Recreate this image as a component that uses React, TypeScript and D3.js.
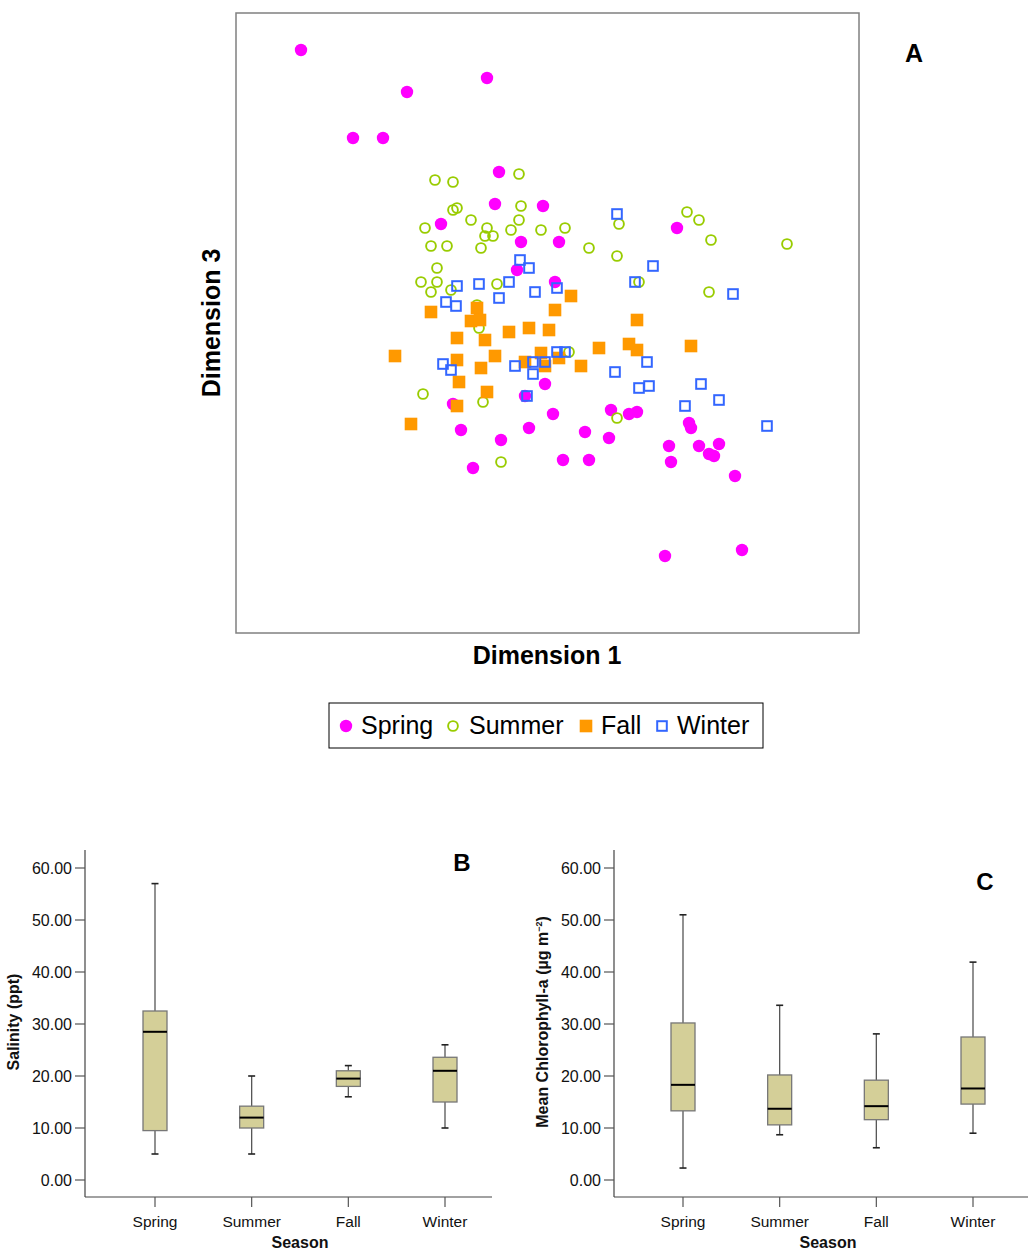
import React from 'react';
import * as d3 from 'd3';

// ---- Panel A: MDS ordination (Dimension 1 vs Dimension 3) ----
const springPts: [number, number][] = [
  [-2.46, 2.73], [-0.60, 2.45], [-1.40, 2.31], [-1.94, 1.85], [-1.64, 1.85], [-0.48, 1.51],
  [-0.52, 1.19], [-0.04, 1.17], [-1.06, 0.99], [1.30, 0.95], [-0.26, 0.81], [0.12, 0.81],
  [-0.30, 0.53], [0.08, 0.41], [-0.02, -0.61], [-0.22, -0.73], [-0.94, -0.81], [0.06, -0.91],
  [-0.86, -1.07], [-0.18, -1.05], [0.38, -1.09], [-0.46, -1.17], [0.64, -0.87], [0.82, -0.91],
  [0.90, -0.89], [0.62, -1.15], [0.16, -1.37], [0.42, -1.37], [-0.74, -1.45], [1.42, -1.00],
  [1.44, -1.05], [1.22, -1.23], [1.24, -1.39], [1.52, -1.23], [1.72, -1.21], [1.62, -1.31],
  [1.67, -1.33], [1.88, -1.53], [1.18, -2.33], [1.95, -2.27],
];
const summerPts: [number, number][] = [
  [-1.12, 1.43], [-0.94, 1.41], [-0.28, 1.49], [-0.94, 1.13], [-0.90, 1.15], [-0.26, 1.17],
  [-1.22, 0.95], [-0.76, 1.03], [-0.60, 0.95], [-0.62, 0.87], [-0.54, 0.87], [-0.36, 0.93],
  [-0.28, 1.03], [-0.06, 0.93], [0.18, 0.95], [-1.16, 0.77], [-1.00, 0.77], [-0.66, 0.75],
  [0.42, 0.75], [0.70, 0.67], [0.72, 0.99], [-1.10, 0.55], [-1.26, 0.41], [-1.10, 0.41],
  [-1.16, 0.31], [-0.96, 0.33], [-0.50, 0.39], [-0.70, 0.18], [-0.68, -0.05], [-1.24, -0.71],
  [-0.64, -0.79], [0.22, -0.29], [0.70, -0.95], [-0.46, -1.39], [1.40, 1.11], [1.52, 1.03],
  [1.64, 0.83], [2.40, 0.79], [1.62, 0.31], [0.92, 0.41],
];
const fallPts: [number, number][] = [
  [-1.16, 0.11], [-0.70, 0.15], [-0.76, 0.02], [-0.67, 0.03], [0.08, 0.13], [-0.38, -0.09],
  [-0.18, -0.05], [0.02, -0.07], [-0.90, -0.15], [-0.62, -0.17], [-1.52, -0.33], [-0.52, -0.33],
  [-0.90, -0.37], [-0.66, -0.45], [-0.22, -0.39], [-0.06, -0.30], [0.12, -0.35], [-0.02, -0.43],
  [0.34, -0.43], [0.52, -0.25], [0.82, -0.21], [0.90, -0.27], [0.24, 0.27], [0.90, 0.03],
  [1.44, -0.23], [-0.88, -0.59], [-0.60, -0.69], [-0.90, -0.83], [-1.36, -1.01],
];
const winterPts: [number, number][] = [
  [0.70, 1.09], [-0.27, 0.63], [-0.18, 0.55], [-0.90, 0.37], [-0.68, 0.39], [-0.38, 0.41],
  [-0.12, 0.31], [0.10, 0.35], [-1.01, 0.21], [-0.91, 0.17], [-0.48, 0.25], [0.88, 0.41],
  [1.06, 0.57], [1.86, 0.29], [-1.04, -0.41], [-0.96, -0.47], [-0.32, -0.43], [-0.14, -0.39],
  [-0.14, -0.51], [-0.02, -0.39], [0.10, -0.29], [0.18, -0.29], [0.68, -0.49], [-0.20, -0.73],
  [1.00, -0.39], [1.02, -0.63], [0.92, -0.65], [1.54, -0.61], [1.72, -0.77], [1.38, -0.83],
  [2.20, -1.03],
];

// ---- Panels B & C: box plots by season ----
const seasons = ['Spring', 'Summer', 'Fall', 'Winter'];
const yTicks = [0, 10, 20, 30, 40, 50, 60];

const salinityMin = [5, 5, 16, 10];
const salinityQ1 = [9.5, 10, 18, 15];
const salinityMedian = [28.5, 12, 19.5, 21];
const salinityQ3 = [32.5, 14.2, 21, 23.6];
const salinityMax = [57, 20, 22, 26];

const chlMin = [2.3, 8.7, 6.2, 9];
const chlQ1 = [13.3, 10.6, 11.6, 14.6];
const chlMedian = [18.3, 13.7, 14.2, 17.6];
const chlQ3 = [30.2, 20.2, 19.2, 27.5];
const chlMax = [51, 33.6, 28.1, 41.9];

const FONT = '"Liberation Sans", Arial, Helvetica, sans-serif';
const C_SPRING = '#ff00ff';
const C_SUMMER = '#99cc00';
const C_FALL = '#ff9900';
const C_WINTER = '#3366ff';
const BOX_FILL = '#d4cf98';

function Circle({ x, y, filled, color }: any) {
  return filled ? (
    <circle cx={x} cy={y} r={6.2} fill={color} />
  ) : (
    <circle cx={x} cy={y} r={4.9} fill="none" stroke={color} strokeWidth={1.9} />
  );
}
function Square({ x, y, filled, color }: any) {
  return filled ? (
    <rect x={x - 6.3} y={y - 6.3} width={12.6} height={12.6} fill={color} />
  ) : (
    <rect x={x - 4.8} y={y - 4.8} width={9.6} height={9.6} fill="none" stroke={color} strokeWidth={2} />
  );
}

function Scatter() {
  const x = d3.scaleLinear().domain([-3.11, 3.12]).range([236, 859]);
  const y = d3.scaleLinear().domain([-3.1, 3.1]).range([633, 13]);
  return (
    <g>
      <rect x={236} y={13} width={623} height={620} fill="none" stroke="#808080" strokeWidth={1.5} />
      {springPts.map((p, i) => <Circle key={'sp' + i} x={x(p[0])} y={y(p[1])} filled color={C_SPRING} />)}
      {summerPts.map((p, i) => <Circle key={'su' + i} x={x(p[0])} y={y(p[1])} color={C_SUMMER} />)}
      {fallPts.map((p, i) => <Square key={'fa' + i} x={x(p[0])} y={y(p[1])} filled color={C_FALL} />)}
      {winterPts.map((p, i) => <Square key={'wi' + i} x={x(p[0])} y={y(p[1])} color={C_WINTER} />)}
      <text x={914} y={62} textAnchor="middle" fontFamily={FONT} fontWeight="bold" fontSize={25}>A</text>
      <text x={547} y={664} textAnchor="middle" fontFamily={FONT} fontWeight="bold" fontSize={25}>Dimension 1</text>
      <text transform="translate(220,323) rotate(-90)" textAnchor="middle" fontFamily={FONT} fontWeight="bold" fontSize={25}>Dimension 3</text>
      {/* legend */}
      <rect x={329} y={703} width={434} height={45} fill="white" stroke="#000" strokeWidth={1} />
      <Circle x={346} y={726} filled color={C_SPRING} />
      <text x={361} y={734} fontFamily={FONT} fontSize={25}>Spring</text>
      <Circle x={453} y={726} color={C_SUMMER} />
      <text x={469} y={734} fontFamily={FONT} fontSize={25}>Summer</text>
      <Square x={586} y={726} filled color={C_FALL} />
      <text x={601} y={734} fontFamily={FONT} fontSize={25}>Fall</text>
      <Square x={662} y={726} color={C_WINTER} />
      <text x={677} y={734} fontFamily={FONT} fontSize={25}>Winter</text>
    </g>
  );
}

function BoxPanel({ axisX, xRange, axisRight, mins, q1s, meds, q3s, maxs, yLabel, letter, letterX, letterY }: any) {
  const y = d3.scaleLinear().domain([0, 60]).range([1180, 868]);
  const x = d3.scalePoint<string>().domain(seasons).range(xRange);
  const bw = 24;
  const cap = 7;
  const axisBottom = 1197;
  return (
    <g fontFamily={FONT}>
      <line x1={axisX} x2={axisX} y1={850} y2={axisBottom} stroke="#444" strokeWidth={1.2} />
      <line x1={axisX} x2={axisRight} y1={axisBottom} y2={axisBottom} stroke="#444" strokeWidth={1.2} />
      {yTicks.map((t) => (
        <g key={t}>
          <line x1={axisX - 10} x2={axisX} y1={y(t)} y2={y(t)} stroke="#555" strokeWidth={1.2} />
          <text x={axisX - 13} y={y(t) + 5.5} textAnchor="end" fontSize={16} fill="#111">{t.toFixed(2)}</text>
        </g>
      ))}
      {seasons.map((s, i) => {
        const cx = x(s) as number;
        return (
          <g key={s}>
            <line x1={cx} x2={cx} y1={axisBottom} y2={axisBottom + 10} stroke="#555" strokeWidth={1.2} />
            <text x={cx} y={1227} textAnchor="middle" fontSize={15.5} fill="#111">{s}</text>
            <line x1={cx} x2={cx} y1={y(maxs[i])} y2={y(q3s[i])} stroke="#555" strokeWidth={1.3} />
            <line x1={cx} x2={cx} y1={y(q1s[i])} y2={y(mins[i])} stroke="#555" strokeWidth={1.3} />
            <line x1={cx - cap / 2} x2={cx + cap / 2} y1={y(maxs[i])} y2={y(maxs[i])} stroke="#222" strokeWidth={1.6} />
            <line x1={cx - cap / 2} x2={cx + cap / 2} y1={y(mins[i])} y2={y(mins[i])} stroke="#222" strokeWidth={1.6} />
            <rect x={cx - bw / 2} y={y(q3s[i])} width={bw} height={y(q1s[i]) - y(q3s[i])} fill={BOX_FILL} stroke="#777" strokeWidth={1.3} />
            <line x1={cx - bw / 2} x2={cx + bw / 2} y1={y(meds[i])} y2={y(meds[i])} stroke="#000" strokeWidth={2} />
          </g>
        );
      })}
      <text x={(xRange[0] + xRange[1]) / 2} y={1248} textAnchor="middle" fontSize={16} fontWeight="bold" fill="#111">Season</text>
      <text transform={`translate(${axisX - 66},1022) rotate(-90)`} textAnchor="middle" fontSize={16} fontWeight="bold" fill="#111">{yLabel}</text>
      <text x={letterX} y={letterY} textAnchor="middle" fontSize={24} fontWeight="bold">{letter}</text>
    </g>
  );
}

export default function App() {
  return (
    <div style={{ position: 'absolute', left: 0, top: 0 }}>
      <svg width={1030} height={1251} style={{ display: 'block', background: '#fff' }}>
        <rect width={1030} height={1251} fill="#fff" />
        <Scatter />
        <BoxPanel axisX={85} xRange={[155, 445]} axisRight={492}
          mins={salinityMin} q1s={salinityQ1} meds={salinityMedian} q3s={salinityQ3} maxs={salinityMax}
          yLabel="Salinity (ppt)" letter="B" letterX={462} letterY={871} />
        <BoxPanel axisX={614} xRange={[683, 973]} axisRight={1028}
          mins={chlMin} q1s={chlQ1} meds={chlMedian} q3s={chlQ3} maxs={chlMax}
          yLabel={<>Mean Chlorophyll-a (µg m<tspan dy={-6} fontSize={9}>−2</tspan><tspan dy={6}>)</tspan></>}
          letter="C" letterX={985} letterY={890} />
      </svg>
    </div>
  );
}
